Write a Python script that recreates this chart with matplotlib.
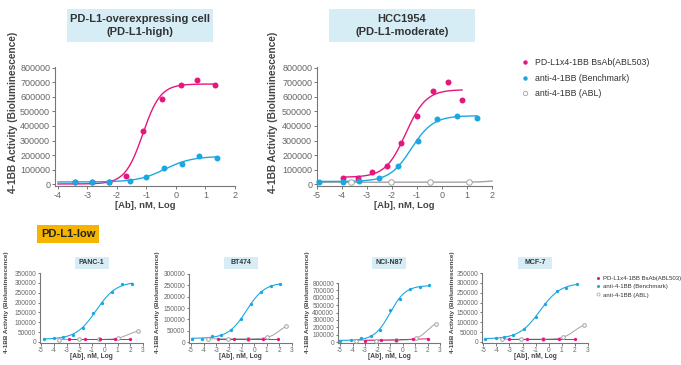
import numpy as np
import matplotlib.pyplot as plt
from matplotlib.patches import Rectangle
from matplotlib.lines import Line2D

plt.rcParams['font.family'] = 'Liberation Sans'
plt.rcParams['axes.unicode_minus'] = False

W, H = 681, 365

MAGENTA = '#e5177e'
BLUE = '#1ba8e2'
GREY = '#a2a2a2'
TEXT = '#444444'

labels = ['PD-L1x4-1BB BsAb(ABL503)', 'anti-4-1BB (Benchmark)', 'anti-4-1BB (ABL)']

# PD-L1-overexpressing cell (PD-L1-high)
high_bs_x = [-3.43, -2.85, -2.27, -1.70, -1.13, -0.47, 0.16, 0.72, 1.33]
high_bs_y = [14000, 14000, 14000, 59000, 366000, 583000, 683000, 715000, 679000]
high_bm_x = [-3.43, -2.83, -2.27, -1.57, -1.00, -0.40, 0.21, 0.79, 1.40]
high_bm_y = [18000, 18000, 18000, 25000, 48000, 112000, 139000, 192000, 183000]

# HCC1954 (PD-L1-moderate)
mod_bs_x = [-3.97, -3.37, -2.79, -2.20, -1.65, -1.00, -0.37, 0.24, 0.80]
mod_bs_y = [46000, 46000, 82000, 126000, 286000, 471000, 641000, 701000, 577000]
mod_bm_x = [-4.93, -3.97, -3.33, -2.53, -1.76, -0.96, -0.21, 0.61, 1.39]
mod_bm_y = [16000, 16000, 25000, 46000, 126000, 297000, 450000, 467000, 457000]
mod_abl_x = [-3.63, -2.05, -0.49, 1.07]
mod_abl_y = [14000, 14000, 14000, 15000]

# PD-L1-low panels
panc_bm_x = [-4.79, -4.00, -3.27, -2.52, -1.73, -0.95, -0.19, 0.57, 1.35, 2.14]
panc_bm_y = [15000, 18600, 27000, 37000, 69000, 147000, 197000, 252000, 293000, 295000]
panc_bs_x = [-2.80, -1.57, -0.35, 0.83, 2.00]
panc_bs_y = [14000, 14000, 14000, 14000, 14000]
panc_abl_x = [-3.60, -2.00, -0.48, 1.06, 2.58]
panc_abl_y = [12000, 13000, 13000, 20000, 54000]

bt_bm_x = [-4.92, -4.13, -3.34, -2.60, -1.81, -1.04, -0.26, 0.53, 1.32, 2.07]
bt_bm_y = [14700, 14700, 25000, 32000, 54000, 103000, 166000, 222000, 246000, 256000]
bt_bs_x = [-2.86, -1.63, -0.50, 0.70, 1.93]
bt_bs_y = [14000, 14000, 14000, 14000, 14000]
bt_abl_x = [-3.65, -2.05, -0.49, 1.03, 2.50]
bt_abl_y = [14000, 14000, 14000, 20600, 69000]

nci_bm_x = [-5.00, -4.13, -3.33, -2.53, -1.79, -0.97, -0.20, 0.57, 1.37, 2.13]
nci_bm_y = [22000, 22600, 54000, 77000, 167000, 429000, 583000, 719000, 741000, 773000]
nci_bs_x = [-3.00, -1.73, -0.50, 0.81, 2.00]
nci_bs_y = [22000, 32000, 30000, 40000, 45000]
nci_abl_x = [-3.70, -2.10, -0.53, 1.08, 2.67]
nci_abl_y = [22000, 22000, 31000, 54000, 249000]

mcf_bm_x = [-4.85, -4.05, -3.45, -2.73, -1.88, -1.00, -0.25, 0.60, 1.35, 2.15]
mcf_bm_y = [16000, 19000, 24000, 38000, 67000, 128000, 193000, 257000, 276000, 293000]
mcf_bs_x = [-3.00, -1.65, -0.45, 0.75, 2.03]
mcf_bs_y = [14000, 14000, 14000, 14000, 14000]
mcf_abl_x = [-3.60, -2.10, -0.45, 1.07, 2.67]
mcf_abl_y = [14000, 14000, 14000, 24000, 84000]


def fit_4pl(x, y, hills=None):
    # crude 4-parameter logistic fit: grid over logEC50/hill, linear solve for bottom/top
    x = np.asarray(x, float)
    y = np.asarray(y, float)
    if hills is None:
        hills = np.linspace(0.4, 3.5, 125)
    c = np.linspace(-5, 6, 441)[:, None, None]
    h = np.asarray(hills, float)[None, :, None]
    with np.errstate(over='ignore'):
        s = 1 / (1 + 10 ** ((c - x) * h))
    sm = s.mean(-1, keepdims=True)
    ym = y.mean()
    var = ((s - sm) ** 2).sum(-1)
    d = ((s - sm) * (y - ym)).sum(-1) / np.maximum(var, 1e-30)
    b = ym - d * sm[..., 0]
    sse = ((b[..., None] + d[..., None] * s - y) ** 2).sum(-1)
    i, j = np.unravel_index(np.argmin(sse), sse.shape)
    return b[i, j], b[i, j] + d[i, j], c[i, 0, 0], h[0, j, 0]


def draw(ax, x, y, color, ms, lw, x0=None, x1=None, hollow=False):
    # the ABL control never reaches its plateau, so keep its slope at 1
    b, t, c, h = fit_4pl(x, y, hills=[1.0] if hollow else None)
    xs = np.linspace(min(x) if x0 is None else x0, max(x) if x1 is None else x1, 300)
    with np.errstate(over='ignore'):
        ys = b + (t - b) / (1 + 10 ** ((c - xs) * h))
    ax.plot(xs, ys, color=color, lw=lw, zorder=2, clip_on=False)
    if hollow:
        ax.plot(x, y, 'o', ms=ms, mfc='white', mec=color, mew=0.7, zorder=3, clip_on=False)
    else:
        ax.plot(x, y, 'o', ms=ms, color=color, mew=0, zorder=3, clip_on=False)


fig = plt.figure(figsize=(W / 100, H / 100), dpi=100)


def add_axes(l, t, r, b):
    return fig.add_axes([l / W, 1 - b / H, (r - l) / W, (b - t) / H])


def box(l, t, r, b, color):
    fig.add_artist(Rectangle((l / W, 1 - b / H), (r - l) / W, (b - t) / H,
                             transform=fig.transFigure, facecolor=color, edgecolor='none'))


def txt(x, y, s, **kw):
    fig.text(x / W, 1 - y / H, s, ha='center', va='center', **kw)


def style(ax, xlim, ylim, xticks, yticks, fs, ticklen):
    ax.set_xlim(xlim)
    ax.set_ylim(ylim)
    ax.set_xticks(xticks)
    ax.set_yticks(yticks)
    ax.set_yticklabels([str(v) for v in yticks])
    for s in ('top', 'right'):
        ax.spines[s].set_visible(False)
    for s in ('left', 'bottom'):
        ax.spines[s].set_color('#777777')
        ax.spines[s].set_linewidth(0.8)
    ax.tick_params(labelsize=fs, colors='#777777', labelcolor='#666666',
                   length=ticklen, width=0.7, pad=1)
    ax.patch.set_alpha(0)


# ---- top row ----
ax1 = add_axes(55, 67.5, 235, 186)
draw(ax1, high_bs_x, high_bs_y, MAGENTA, 4.3, 1.0, x0=-4)
draw(ax1, high_bm_x, high_bm_y, BLUE, 4.3, 1.0, x0=-4)
style(ax1, (-4.1, 2), (-11700, 801000), range(-4, 3), range(0, 800001, 100000), 6.5, 2.5)

ax2 = add_axes(317, 67.5, 492, 186)
draw(ax2, mod_abl_x, mod_abl_y, GREY, 4.0, 1.0, x0=-5, x1=2, hollow=True)
draw(ax2, mod_bs_x, mod_bs_y, MAGENTA, 4.3, 1.0)
draw(ax2, mod_bm_x, mod_bm_y, BLUE, 4.3, 1.0)
style(ax2, (-5, 2), (-11700, 801000), range(-5, 3), range(0, 800001, 100000), 6.5, 2.5)

for lx in (13, 273):
    txt(lx, 112, '4-1BB Activity (Bioluminescence)', rotation=90, fontsize=7.3,
        fontweight='bold', color=TEXT)
for cx in (145, 404):
    txt(cx, 205, '[Ab], nM, Log', fontsize=6.8, fontweight='bold', color=TEXT)

box(67, 9, 213, 42, '#d6edf5')
txt(140, 19, 'PD-L1-overexpressing cell', fontsize=8, fontweight='bold', color='#333333')
txt(140, 32, '(PD-L1-high)', fontsize=8, fontweight='bold', color='#333333')
box(329, 9, 475, 42, '#d6edf5')
txt(402, 19, 'HCC1954', fontsize=8, fontweight='bold', color='#333333')
txt(402, 32, '(PD-L1-moderate)', fontsize=8, fontweight='bold', color='#333333')

handles = [Line2D([], [], ls='none', marker='o', ms=3.2, color=MAGENTA, mew=0),
           Line2D([], [], ls='none', marker='o', ms=3.2, color=BLUE, mew=0),
           Line2D([], [], ls='none', marker='o', ms=3.2, mfc='white', mec=GREY, mew=0.6)]
fig.legend(handles, labels, loc='upper left', bbox_to_anchor=(521 / W, 1 - 58 / H),
           frameon=False, fontsize=6.3, handlelength=0.8, handletextpad=0.8,
           labelspacing=0.75, borderpad=0, borderaxespad=0, labelcolor='#333333')

# ---- PD-L1-low ----
box(37, 225, 99, 243, '#f5b400')
txt(68, 234, 'PD-L1-low', fontsize=8, fontweight='bold', color='#222222')

low = [
    ('PANC-1', (40, 273, 143), (-5.08, 3), 350000, 7,
     (panc_bs_x, panc_bs_y), (panc_bm_x, panc_bm_y), (panc_abl_x, panc_abl_y)),
    ('BT474', (189, 274, 292), (-5.16, 3), 300000, 157,
     (bt_bs_x, bt_bs_y), (bt_bm_x, bt_bm_y), (bt_abl_x, bt_abl_y)),
    ('NCI-N87', (338, 283, 440), (-5.16, 3), 800000, 307,
     (nci_bs_x, nci_bs_y), (nci_bm_x, nci_bm_y), (nci_abl_x, nci_abl_y)),
    ('MCF-7', (482, 273, 588), (-5.1, 3), 350000, 453,
     (mcf_bs_x, mcf_bs_y), (mcf_bm_x, mcf_bm_y), (mcf_abl_x, mcf_abl_y)),
]

for name, (l, t, r), xlim, ymax, lx, bs, bm, abl in low:
    ax = add_axes(l, t, r, 343)
    step = 100000 if ymax > 400000 else 50000
    draw(ax, abl[0], abl[1], GREY, 2.6, 0.7, hollow=True)
    draw(ax, bs[0], bs[1], MAGENTA, 2.4, 0.7)
    draw(ax, bm[0], bm[1], BLUE, 2.4, 0.8)
    style(ax, xlim, (-ymax / 69, ymax), range(-5, 4), range(0, ymax + 1, step), 4.7, 1.8)
    cx = (l + r) / 2
    box(cx - 17, 257, cx + 17, 269, '#d6edf5')
    txt(cx, 263, name, fontsize=5, fontweight='bold', color='#333333')
    txt(cx, 357, '[Ab], nM, Log', fontsize=4.8, fontweight='bold', color=TEXT)
    txt(lx, 302, '4-1BB Activity (Bioluminescence)', rotation=90, fontsize=4.6,
        fontweight='bold', color=TEXT)

handles_s = [Line2D([], [], ls='none', marker='o', ms=2.2, color=MAGENTA, mew=0),
             Line2D([], [], ls='none', marker='o', ms=2.2, color=BLUE, mew=0),
             Line2D([], [], ls='none', marker='o', ms=2.2, mfc='white', mec=GREY, mew=0.5)]
fig.legend(handles_s, labels, loc='upper left', bbox_to_anchor=(596 / W, 1 - 276 / H),
           frameon=False, fontsize=4.3, handlelength=0.6, handletextpad=0.6,
           labelspacing=0.5, borderpad=0, borderaxespad=0, labelcolor='#333333')

plt.savefig('out.png', dpi=100)
